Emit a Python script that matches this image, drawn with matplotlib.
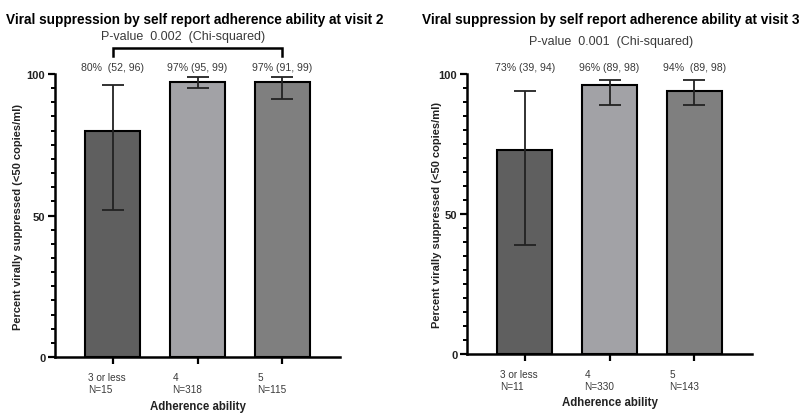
import matplotlib.pyplot as plt
import matplotlib.transforms as mtransforms
from matplotlib.ticker import MultipleLocator

plt.rcParams['font.family'] = ['Liberation Sans', 'DejaVu Sans']

# Données
categories_v2 = ['3 or less\nN=15', '4\nN=318', '5\nN=115']
pct_v2 = [80, 97, 97]
low_v2 = [52, 95, 91]
high_v2 = [96, 99, 99]
labels_v2 = ['80%  (52, 96)', '97% (95, 99)', '97% (91, 99)']

categories_v3 = ['3 or less\nN=11', '4\nN=330', '5\nN=143']
pct_v3 = [73, 96, 94]
low_v3 = [39, 89, 89]
high_v3 = [94, 98, 98]
labels_v3 = ['73% (39, 94)', '96% (89, 98)', '94%  (89, 98)']

couleurs = ['#5f5f5f', '#a2a2a6', '#7f7f7f']
texte_gris = '#3a3a3a'

fig = plt.figure(figsize=(8.01, 4.14), dpi=100)
ax1 = fig.add_axes([0.0687, 0.135, 0.356, 0.684])
ax2 = fig.add_axes([0.583, 0.1425, 0.356, 0.676])


def dessine(ax, cats, pct, low, high, labels, pos_ylabel, pos_xlabel):
    x = range(len(cats))
    yerr = [[p - l for p, l in zip(pct, low)], [h - p for p, h in zip(pct, high)]]
    ax.bar(x, pct, width=0.65, color=couleurs, edgecolor='black', linewidth=1.5, zorder=2)
    ax.errorbar(x, pct, yerr=yerr, fmt='none', ecolor='#222222', elinewidth=1.3,
                capsize=8, capthick=1.3, zorder=3)
    for i, t in enumerate(labels):
        ax.text(i, 102.5, t, ha='center', va='center', fontsize=7.6, color=texte_gris, clip_on=False)

    ax.set_ylim(0, 100)
    ax.set_xlim(-0.68, 2.68)
    ax.yaxis.set_major_locator(MultipleLocator(50))
    ax.yaxis.set_minor_locator(MultipleLocator(5))
    ax.set_xticks(list(x))
    ax.set_xticklabels([])
    # étiquettes des catégories, alignées à gauche un peu avant le trait
    trans = mtransforms.blended_transform_factory(ax.transData, ax.transAxes)
    decalage = mtransforms.ScaledTranslation(-25 / 100, -15 / 100, fig.dpi_scale_trans)
    for i, c in enumerate(cats):
        ax.text(i, 0, c, transform=trans + decalage, ha='left', va='top', fontsize=7.2,
                color=texte_gris, linespacing=1.25)
    for lab in ax.get_yticklabels():
        lab.set_fontweight('bold')
        lab.set_fontsize(8)
        lab.set_color('#222222')

    for s in ['top', 'right']:
        ax.spines[s].set_visible(False)
    for s in ['left', 'bottom']:
        ax.spines[s].set_linewidth(1.8)
    ax.tick_params(axis='both', which='major', width=1.6, length=5, pad=2)
    ax.tick_params(axis='y', which='minor', width=1.4, length=3)
    ax.set_ylabel('Percent virally suppressed (<50 copies/ml)', fontsize=8,
                  fontweight='bold', color='#222222')
    ax.yaxis.set_label_coords(pos_ylabel, 0.5)
    ax.set_xlabel('Adherence ability', fontsize=8.3, fontweight='bold', color='#222222',
                  va='center')
    ax.xaxis.set_label_coords(0.5, pos_xlabel)


dessine(ax1, categories_v2, pct_v2, low_v2, high_v2, labels_v2, -0.112, -49 / 283)
dessine(ax2, categories_v3, pct_v3, low_v3, high_v3, labels_v3, -0.088, -48 / 280)

# Crochet de comparaison (visite 2)
ax1.plot([0, 0, 2, 2], [106.4, 109.2, 109.2, 106.4], color='black', linewidth=1.8,
         clip_on=False, solid_joinstyle='miter')

fig.text(0.2435, 0.952, 'Viral suppression by self report adherence ability at visit 2',
         ha='center', va='center', fontsize=9.8, fontweight='bold')
fig.text(0.763, 0.952, 'Viral suppression by self report adherence ability at visit 3',
         ha='center', va='center', fontsize=9.8, fontweight='bold')
fig.text(183 / 801, 1 - 37 / 414, 'P-value  0.002  (Chi-squared)', ha='center', va='center',
         fontsize=9, color=texte_gris)
fig.text(611 / 801, 1 - 42 / 414, 'P-value  0.001  (Chi-squared)', ha='center', va='center',
         fontsize=9, color=texte_gris)

fig.savefig('out.png', dpi=100)
